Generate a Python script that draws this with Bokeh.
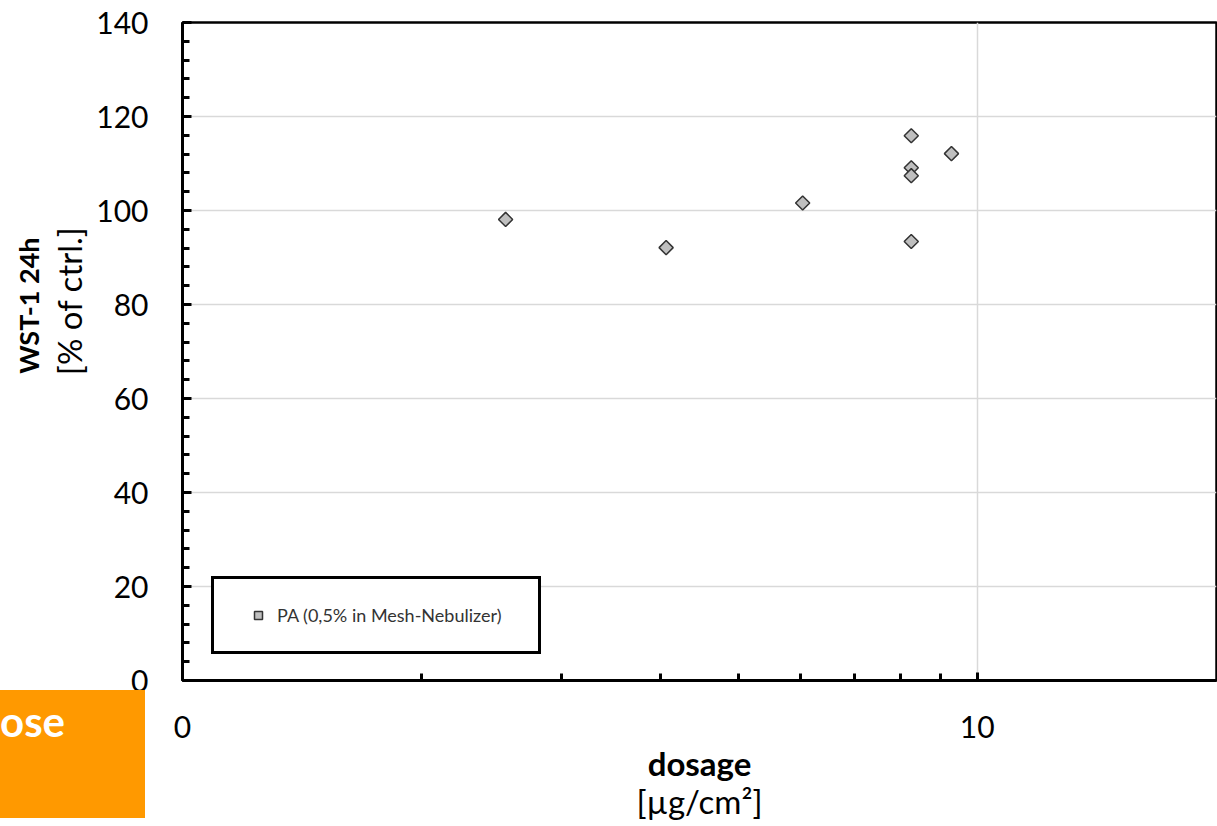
from bokeh.plotting import figure
from bokeh.models import (FixedTicker, LinearAxis, LogAxis, Legend, LegendItem,
                          Range1d, Div)
from bokeh.layouts import column
from bokeh.embed import file_html
from bokeh.resources import INLINE

# ---- data ----
dosage = [2.55, 4.06, 6.03, 8.26, 8.26, 8.26, 8.26, 9.28]
wst1 = [98.1, 92.1, 101.6, 115.9, 109.1, 107.4, 93.4, 112.1]
series_name = "PA (0,5% in Mesh-Nebulizer)"

x_major = [1, 10]
x_minor = [2, 3, 4, 5, 6, 7, 8, 9]
x_labels = {1: "0", 10: "10"}
y_major = [0, 20, 40, 60, 80, 100, 120, 140]
y_minor = [4, 8, 12, 16, 24, 28, 32, 36, 44, 48, 52, 56, 64, 68, 72, 76,
           84, 88, 92, 96, 104, 108, 112, 116, 124, 128, 132, 136]

FONT = "Lato"
NB = "\u00a0"

p = figure(width=1217, height=826, x_axis_type="log",
           x_range=Range1d(1, 20), y_range=Range1d(0, 140),
           output_backend="svg", toolbar_location=None,
           min_border_left=182, min_border_right=1, min_border_top=22,
           min_border_bottom=146)
p.background_fill_color = "white"
p.border_fill_color = "white"
p.outline_line_color = "black"
p.outline_line_width = 2.5

# x axis
xa = p.xaxis[0]
xa.ticker = FixedTicker(ticks=x_major, minor_ticks=x_minor)
xa.major_label_overrides = x_labels
xa.axis_label = "dosage"
xa.axis_label_text_font = FONT
xa.axis_label_text_font_style = "bold"
xa.axis_label_text_font_size = "33px"
xa.axis_label_text_color = "black"
xa.axis_label_standoff = 2
xa.major_label_text_font = FONT
xa.major_label_text_font_size = "30px"
xa.major_label_text_color = "black"
xa.major_label_standoff = 35
xa.axis_line_width = 3
xa.axis_line_color = "black"
xa.major_tick_in = 8
xa.major_tick_out = 0
xa.minor_tick_in = 7
xa.minor_tick_out = 0
xa.major_tick_line_width = 3
xa.minor_tick_line_width = 3

xa2 = LogAxis(ticker=FixedTicker(ticks=[]), axis_label="[µg/cm²]",
              axis_label_text_font=FONT, axis_label_text_font_size="33px",
              axis_label_text_font_style="normal", axis_label_text_color="black",
              axis_label_standoff=-5, major_label_standoff=0,
              axis_line_color=None, major_tick_in=0, major_tick_out=0,
              minor_tick_in=0, minor_tick_out=0)
p.add_layout(xa2, "below")

# y axis (labels sit above the axis centre, as in the reference)
ya = p.yaxis[0]
ya.ticker = FixedTicker(ticks=y_major, minor_ticks=y_minor)
ya.axis_label = NB * 12 + "[% of ctrl.]"
ya.axis_label_text_font = FONT
ya.axis_label_text_font_style = "normal"
ya.axis_label_text_font_size = "33px"
ya.axis_label_text_color = "black"
ya.axis_label_standoff = 4
ya.major_label_text_font = FONT
ya.major_label_text_font_size = "30px"
ya.major_label_text_color = "black"
ya.major_label_standoff = 34
ya.axis_line_width = 3
ya.axis_line_color = "black"
ya.major_tick_in = 9
ya.major_tick_out = 0
ya.minor_tick_in = 7
ya.minor_tick_out = 0
ya.major_tick_line_width = 3
ya.minor_tick_line_width = 3

ya2 = LinearAxis(ticker=FixedTicker(ticks=[]), axis_label=NB * 14 + "WST-1 24h",
                 axis_label_text_font=FONT, axis_label_text_font_size="27px",
                 axis_label_text_font_style="bold", axis_label_text_color="black",
                 axis_label_standoff=2, major_label_standoff=0,
                 axis_line_color=None, major_tick_in=0, major_tick_out=0,
                 minor_tick_in=0, minor_tick_out=0)
p.add_layout(ya2, "left")

# grids
p.xgrid.ticker = FixedTicker(ticks=x_major)
p.ygrid.ticker = FixedTicker(ticks=y_major)
for g in (p.xgrid[0], p.ygrid[0]):
    g.grid_line_color = "#d9d9d9"
    g.grid_line_width = 1.5

# points
r = p.scatter(dosage, wst1, marker="square", angle=45, angle_units="deg",
              size=10, fill_color="#bfbfbf", line_color="#333333",
              line_width=1.5)

legend = Legend(items=[LegendItem(label=series_name, renderers=[r])],
                location=(29, 26), orientation="vertical",
                padding=25, spacing=0, margin=0,
                glyph_width=38, glyph_height=20, label_standoff=-3,
                label_width=236, label_height=20,
                label_text_font=FONT, label_text_font_size="18px",
                label_text_color="#333333",
                border_line_color="black", border_line_width=3,
                border_line_alpha=1,
                background_fill_color="white", background_fill_alpha=1)
p.add_layout(legend, "center")

# orange corner box from the slide (cut-off title text)
corner = Div(text='<div style="width:145px;height:128px;background:#ff9900;'
                  'color:white;font-family:Lato;font-weight:bold;font-size:42px;'
                  'line-height:1;padding-top:10px;box-sizing:border-box;">ose</div>',
             width=145, height=128, margin=0,
             styles={"position": "absolute", "left": "0px", "top": "690px",
                     "z-index": "10"})

layout = column(p, corner)
open("out.html", "w").write(file_html(layout, INLINE))
